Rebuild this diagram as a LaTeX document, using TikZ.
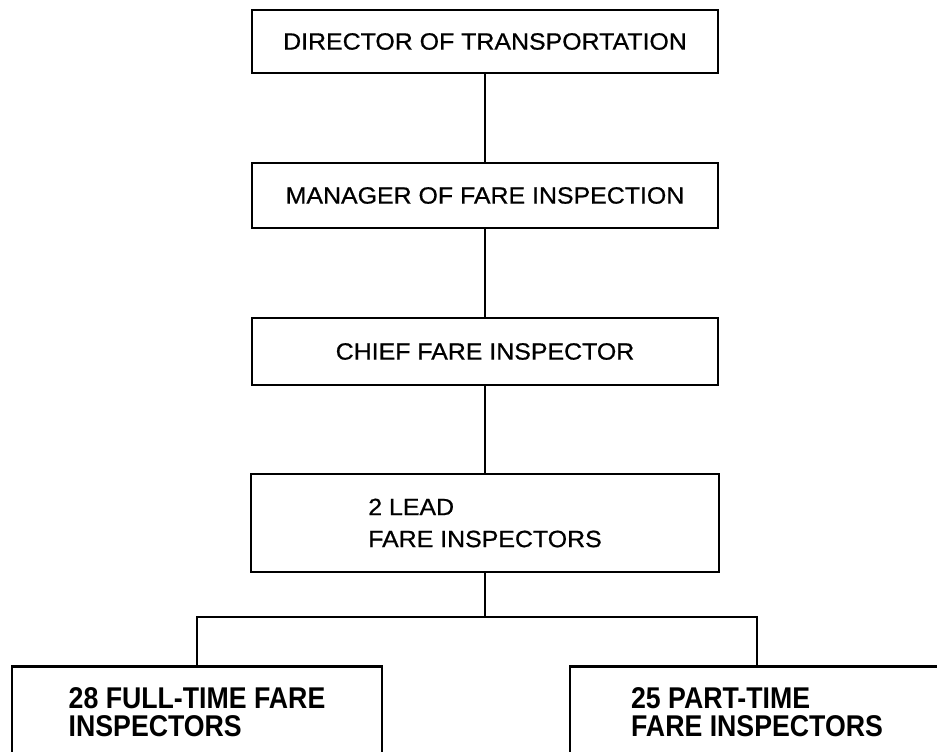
\documentclass[tikz,border=0pt]{standalone}
\usepackage{fontspec}
\setmainfont{Liberation Sans}
\newfontfamily\ranktype[FakeStretch=1.06,FakeBold=0.7]{Liberation Sans}
\newfontfamily\crewtype[FakeStretch=0.89]{Liberation Sans}
\begin{document}
\begin{tikzpicture}[x=1pt,y=-1pt,
	rankbox/.style={draw,line width=2.9pt,minimum width=466pt,inner sep=0pt,font=\ranktype\fontsize{23.5}{32}\selectfont},
	crewbox/.style={draw,line width=2.9pt,anchor=north,minimum height=92pt,inner sep=0pt,align=left,font=\crewtype\bfseries\fontsize{30}{28}\selectfont},
	link/.style={line width=2.6pt}]
	\useasboundingbox (0,0) rectangle (937,752);

	\node[rankbox,minimum height=63pt] (director) at (485,41.5) {DIRECTOR OF TRANSPORTATION};
	\node[rankbox,minimum height=65pt] (manager) at (485,195.5) {MANAGER OF FARE INSPECTION};
	\node[rankbox,minimum height=67pt] (chief) at (485,351.5) {CHIEF FARE INSPECTOR};
	\node[rankbox,minimum height=98pt,minimum width=468pt,align=left] (lead) at (485,523) {2 LEAD\\FARE INSPECTORS};

	\coordinate (split) at (485,617);
	\node[crewbox,minimum width=370pt] (fulltime) at (197,665) {28 FULL-TIME FARE\\INSPECTORS};
	\node[crewbox,minimum width=374pt] (parttime) at (757,665) {25 PART-TIME\\FARE INSPECTORS};

	\draw[link] (director) -- (manager);
	\draw[link] (manager) -- (chief);
	\draw[link] (chief) -- (lead);
	\draw[link] (lead) -- (split);
	\draw[link] (fulltime.north) |- (split) -| (parttime.north);
\end{tikzpicture}
\end{document}
